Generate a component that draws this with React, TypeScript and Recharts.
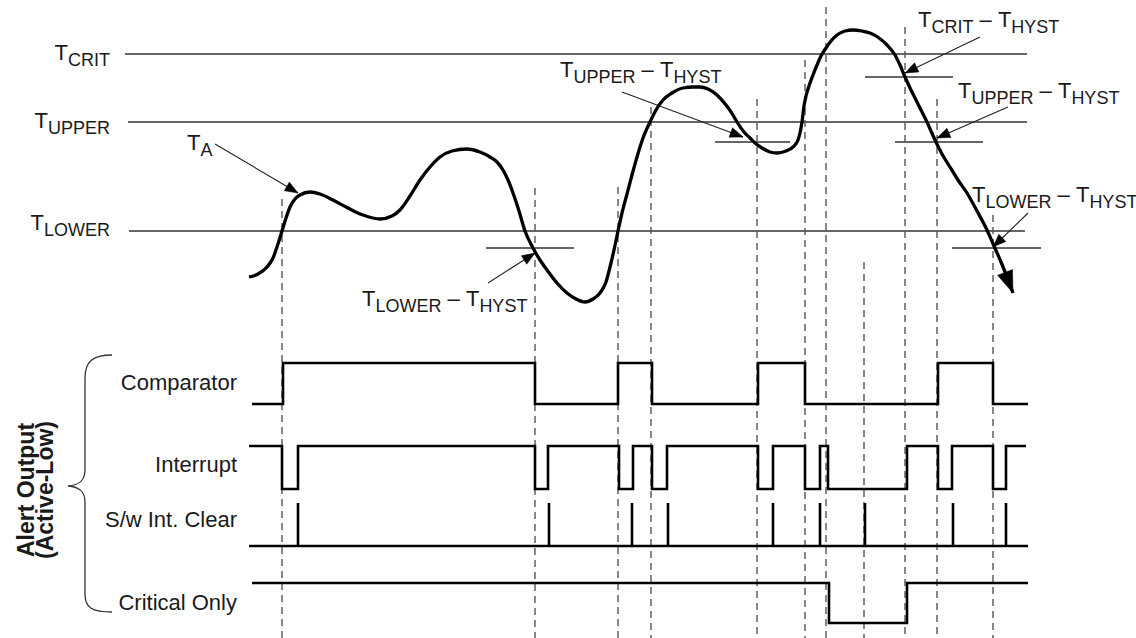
import React from "react";
import { ComposedChart, Line, XAxis, YAxis, ReferenceLine } from "recharts";

const W = 1136;
const H = 638;
const FONT = "'Liberation Sans', Arial, Helvetica, sans-serif";

// Ambient temperature trace T_A : [time, level] (level axis grows downward)
const taTrace: [number, number][] = [
  [249, 277], [258, 274], [267, 267], [273, 258], [277, 247], [282, 231], [286, 218],
  [290, 207], [295, 199], [300, 195], [310, 192], [320, 194], [333, 200], [348, 208],
  [363, 215], [380, 219], [392, 216], [400, 210], [410, 196], [420, 180], [430, 167],
  [440, 157], [452, 151], [467, 149], [480, 152], [490, 157], [497, 162], [503, 170],
  [508, 180], [513, 193], [519, 211], [525, 231], [533, 248], [540, 260], [547, 270],
  [557, 283], [567, 293], [576, 299], [585, 302], [593, 299], [600, 293], [606, 282],
  [610, 267], [614, 250], [618, 231], [622, 213], [627, 194], [632, 175], [637, 157],
  [643, 138], [650, 122], [656, 110], [663, 100], [672, 93], [683, 88], [693, 87],
  [700, 87], [708, 89], [717, 95], [726, 105], [733, 115], [737, 122], [744, 132],
  [750, 138], [755, 143], [762, 148], [770, 152], [777, 153], [786, 151], [793, 147],
  [798, 140], [800, 133], [802, 122], [804, 106], [806, 96], [809, 86], [813, 75],
  [817, 65], [821, 56], [826, 48], [831, 41], [837, 35], [845, 31], [853, 30],
  [862, 31], [870, 33], [879, 38], [887, 45], [895, 55], [900, 65], [905, 77],
  [911, 90], [917, 102], [922, 112], [927, 122], [931, 131], [935, 140], [942, 154],
  [950, 167], [958, 180], [967, 193], [977, 211], [987, 230], [994, 246], [1001, 262],
  [1013, 293],
];

// Threshold levels
const thresholdNames = ["CRIT", "UPPER", "LOWER"];
const thresholdLevels = [54, 122, 231];
const thresholdStart = [125, 128, 129];
const thresholdEnd = [1027, 1027, 1025];

// Hysteresis marks: [level, from, to]
const hystMarks: [number, number, number][] = [
  [248, 486, 574],
  [142, 715, 790],
  [77, 865, 953],
  [142, 895, 983],
  [248, 952, 1041],
];

// Annotation pointers: [fromT, fromV, toT, toV]
const pointerArrows: [number, number, number, number][] = [
  [215, 144, 298, 193],
  [488, 283, 535, 253],
  [622, 92, 743, 137],
  [980, 37, 905, 73],
  [1008, 107, 937, 138],
  [1028, 213, 993, 247],
];

// Event markers (dashed): time and top level
const eventTimes = [282, 535, 618, 651, 757, 805, 826, 864, 905, 937, 993];
const eventTops = [199, 188, 187, 107, 99, 60, 7, 262, 27, 99, 215];

// Alert output signals: [time, state]
const comparatorSteps: [number, number][] = [
  [252, 0], [283, 1], [535, 0], [618, 1], [652, 0], [758, 1], [805, 0], [938, 1], [993, 0], [1028, 0],
];
const interruptSteps: [number, number][] = [
  [249, 1], [282, 0], [298, 1], [535, 0], [548, 1], [619, 0], [633, 1], [652, 0], [667, 1],
  [758, 0], [773, 1], [805, 0], [820, 1], [828, 0], [907, 1], [938, 0], [952, 1], [993, 0],
  [1006, 1], [1026, 1],
];
const clearPulses = [298, 549, 632, 668, 773, 820, 865, 953, 1006];
const clearSpan = [249, 1028];
const criticalSteps: [number, number][] = [[252, 1], [829, 0], [907, 1], [1028, 1]];

// Row layout (drawing levels)
const ROW_COMP = { low: 404, high: 363 };
const ROW_INT = { low: 489, high: 446 };
const ROW_CLR = { low: 546, high: 503 };
const ROW_CRIT = { low: 623, high: 583 };

const toStep = (steps: [number, number][], row: { low: number; high: number }) =>
  steps.map(([t, s]) => ({ t, v: s ? row.high : row.low }));

const taData = taTrace.map(([t, v], i) =>
  i === taTrace.length - 1
    ? { t, v, fromT: taTrace[i - 1][0], fromV: taTrace[i - 1][1] }
    : { t, v }
);
const compData = toStep(comparatorSteps, ROW_COMP);
const intData = toStep(interruptSteps, ROW_INT);
const critData = toStep(criticalSteps, ROW_CRIT);
const clrData = (() => {
  const out: { t: number; v: number }[] = [{ t: clearSpan[0], v: ROW_CLR.low }];
  clearPulses.forEach((p) => {
    out.push({ t: p, v: ROW_CLR.low }, { t: p, v: ROW_CLR.high }, { t: p, v: ROW_CLR.low });
  });
  out.push({ t: clearSpan[1], v: ROW_CLR.low });
  return out;
})();

const makeArrowDot = (len: number, halfW: number) => (props: any) => {
  const { cx, cy, index, points, payload } = props;
  const n = points ? points.length : 2;
  if (index !== n - 1 || cx == null || cy == null) return <g key={`n${index}`} />;
  let px: number, py: number;
  if (points && points[n - 2]) {
    px = points[n - 2].x;
    py = points[n - 2].y;
  } else {
    px = payload.fromT;
    py = payload.fromV;
  }
  const dx = cx - px;
  const dy = cy - py;
  const d = Math.sqrt(dx * dx + dy * dy) || 1;
  const ux = dx / d;
  const uy = dy / d;
  const bx = cx - ux * len;
  const by = cy - uy * len;
  const ox = -uy * halfW;
  const oy = ux * halfW;
  return (
    <path
      key={`a${index}`}
      d={`M${cx},${cy}L${bx + ox},${by + oy}L${bx - ox},${by - oy}Z`}
      fill="#000"
      stroke="#000"
      strokeWidth={0.5}
    />
  );
};

const bigArrow = makeArrowDot(22, 8);
const smallArrow = makeArrowDot(13, 5);

const MAIN = 22;
const SUB = 18;
const SUBDY = 6;
const TXT = "#1a1a1a";

const TSym = ({ x, y, sub, anchor }: { x: number; y: number; sub: string; anchor?: string }) => (
  <text x={x} y={y} fontFamily={FONT} fontSize={MAIN} fill={TXT} textAnchor={anchor || "start"}>
    <tspan>T</tspan>
    <tspan fontSize={SUB} dy={SUBDY}>{sub}</tspan>
  </text>
);

const THyst = ({ x, y, sub }: { x: number; y: number; sub: string }) => (
  <text x={x} y={y} fontFamily={FONT} fontSize={MAIN} fill={TXT}>
    <tspan>T</tspan>
    <tspan fontSize={SUB} dy={SUBDY}>{sub}</tspan>
    <tspan dy={-SUBDY}>{"\u00A0\u2013\u00A0T"}</tspan>
    <tspan fontSize={SUB} dy={SUBDY}>HYST</tspan>
  </text>
);

const sigLabel = (label: string, y: number) => (
  <text key={label} x={237} y={y} fontFamily={FONT} fontSize={22} fill={TXT} textAnchor="end">
    {label}
  </text>
);

export default function App() {
  return (
    <div style={{ position: "absolute", left: 0, top: 0, width: W, height: H, background: "#fff" }}>
      <ComposedChart width={W} height={H} margin={{ top: 0, right: 0, bottom: 0, left: 0 }}>
        <XAxis type="number" dataKey="t" domain={[0, W]} hide allowDataOverflow />
        <YAxis type="number" domain={[0, H]} reversed hide allowDataOverflow />

        {thresholdLevels.map((lv, i) => (
          <ReferenceLine
            key={`th${i}`}
            segment={[{ x: thresholdStart[i], y: lv }, { x: thresholdEnd[i], y: lv }]}
            stroke="#333"
            strokeWidth={1.3}
            ifOverflow="visible"
          />
        ))}
        {hystMarks.map(([lv, a, b], i) => (
          <ReferenceLine
            key={`hy${i}`}
            segment={[{ x: a, y: lv }, { x: b, y: lv }]}
            stroke="#333"
            strokeWidth={1.3}
            ifOverflow="visible"
          />
        ))}
        {eventTimes.map((t, i) => (
          <ReferenceLine
            key={`ev${i}`}
            segment={[{ x: t, y: eventTops[i] }, { x: t, y: H }]}
            stroke="#555"
            strokeWidth={1.4}
            strokeDasharray="7 5"
            ifOverflow="visible"
          />
        ))}

        {pointerArrows.map(([a, b, c, d], i) => (
          <Line
            key={`pa${i}`}
            data={[{ t: a, v: b }, { t: c, v: d, fromT: a, fromV: b }]}
            dataKey="v"
            type="linear"
            stroke="#222"
            strokeWidth={1.1}
            dot={smallArrow}
            activeDot={false}
            isAnimationActive={false}
          />
        ))}

        <Line
          data={taData}
          dataKey="v"
          type="monotone"
          stroke="#000"
          strokeWidth={3.3}
          dot={bigArrow}
          activeDot={false}
          isAnimationActive={false}
        />

        <Line data={compData} dataKey="v" type="stepAfter" stroke="#000" strokeWidth={2.6} dot={false} activeDot={false} isAnimationActive={false} />
        <Line data={intData} dataKey="v" type="stepAfter" stroke="#000" strokeWidth={2.6} dot={false} activeDot={false} isAnimationActive={false} />
        <Line data={clrData} dataKey="v" type="linear" stroke="#000" strokeWidth={2.6} dot={false} activeDot={false} isAnimationActive={false} />
        <Line data={critData} dataKey="v" type="stepAfter" stroke="#000" strokeWidth={2.6} dot={false} activeDot={false} isAnimationActive={false} />

        {/* threshold labels */}
        <TSym x={110} y={60} sub={thresholdNames[0]} anchor="end" />
        <TSym x={110} y={128} sub={thresholdNames[1]} anchor="end" />
        <TSym x={110} y={230} sub={thresholdNames[2]} anchor="end" />
        <TSym x={187} y={150} sub="A" />

        <THyst x={362} y={306} sub="LOWER" />
        <THyst x={560} y={77} sub="UPPER" />
        <THyst x={918} y={27} sub="CRIT" />
        <THyst x={958} y={98} sub="UPPER" />
        <THyst x={972} y={202} sub="LOWER" />

        {sigLabel("Comparator", 390)}
        {sigLabel("Interrupt", 472)}
        {sigLabel("S/w Int. Clear", 527)}
        {sigLabel("Critical Only", 610)}

        <path
          d="M112,355 C92,355 85,362 85,378 L85,470 C85,480 80,485 68,486 C80,487 85,492 85,502 L85,594 C85,608 92,612 112,612"
          fill="none"
          stroke="#333"
          strokeWidth={1.3}
        />
        <text
          transform="translate(34,490) rotate(-90)"
          fontFamily={FONT}
          fontSize={23}
          fontWeight="bold"
          fill={TXT}
          textAnchor="middle"
        >
          Alert Output
        </text>
        <text
          transform="translate(53,490) rotate(-90)"
          fontFamily={FONT}
          fontSize={23}
          fontWeight="bold"
          fill={TXT}
          textAnchor="middle"
        >
          (Active-Low)
        </text>
      </ComposedChart>
    </div>
  );
}
